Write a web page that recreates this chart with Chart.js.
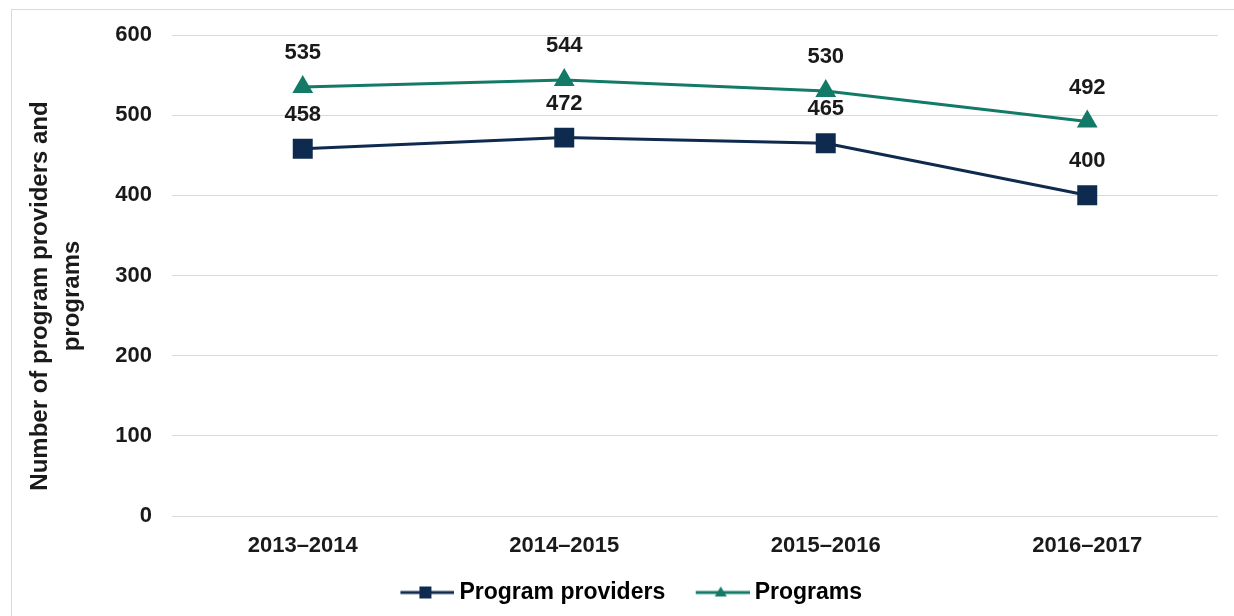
<!DOCTYPE html>
<html>
<head>
<meta charset="utf-8">
<script src="https://cdn.jsdelivr.net/npm/chart.js@4.4.1/dist/chart.umd.min.js"></script>
<style>
  html, body { margin: 0; padding: 0; background: #fff; overflow: hidden; }
  #wrap { position: relative; width: 1234px; height: 616px; }
  #frame { position: absolute; left: 11px; top: 9px; width: 1240px; height: 620px; border: 1px solid #d9d9d9; box-sizing: border-box; }
  canvas { position: absolute; left: 0; top: 0; }
</style>
</head>
<body>
<div id="wrap">
  <div id="frame"></div>
  <canvas id="chart" width="1234" height="616"></canvas>
</div>
<script>
var years = ['2013\u20132014', '2014\u20132015', '2015\u20132016', '2016\u20132017'];
var providers = [458, 472, 465, 400];
var programs = [535, 544, 530, 492];
var yTicks = [0, 100, 200, 300, 400, 500, 600];
var yTitle = ['Number of program providers and', 'programs'];

var navy = '#0e2a4e';
var green = '#127a67';
var textColor = '#1a1a1a';
var fontFam = '"Liberation Sans", Arial, sans-serif';

// line + marker swatch for the legend, blank on the left works as item gap
function legendIcon(color, style){
    var c = document.createElement('canvas');
    c.width = 81; c.height = 16;
    var g = c.getContext('2d');
    g.strokeStyle = color; g.lineWidth = 3;
    g.beginPath(); g.moveTo(27, 8); g.lineTo(81, 8); g.stroke();
    g.fillStyle = color;
    if (style === 'rect') {
        g.fillRect(46, 2, 12, 12);
    } else {
        g.beginPath(); g.moveTo(52, 2); g.lineTo(58, 12); g.lineTo(46, 12); g.closePath(); g.fill();
    }
    return c;
}

var valueLabels = {
    id: 'valueLabels',
    afterDatasetsDraw: function(chart){
        var ctx = chart.ctx;
        ctx.save();
        ctx.font = 'bold 22px ' + fontFam;
        ctx.fillStyle = textColor;
        ctx.textAlign = 'center';
        ctx.textBaseline = 'middle';
        chart.data.datasets.forEach(function(ds, i){
            chart.getDatasetMeta(i).data.forEach(function(pt, j){
                ctx.fillText(ds.data[j], pt.x, pt.y - 34);
            });
        });
        ctx.restore();
    }
};

// y axis title drawn by hand so it sits where the original has it
var axisTitle = {
    id: 'axisTitle',
    afterDraw: function(chart){
        var ctx = chart.ctx;
        ctx.save();
        ctx.font = 'bold 24px ' + fontFam;
        ctx.fillStyle = textColor;
        ctx.textAlign = 'center';
        ctx.textBaseline = 'middle';
        ctx.translate(40, 296);
        ctx.rotate(-Math.PI / 2);
        yTitle.forEach(function(line, i){
            ctx.fillText(line, 0, i * 32);
        });
        ctx.restore();
    }
};

new Chart(document.getElementById('chart'), {
    type: 'line',
    data: {
        labels: years,
        datasets: [{
            label: 'Program providers',
            data: providers,
            borderColor: navy,
            backgroundColor: navy,
            borderWidth: 3,
            pointStyle: 'rect',
            pointRadius: 12,
            pointHoverRadius: 12,
            tension: 0
        }, {
            label: 'Programs',
            data: programs,
            borderColor: green,
            backgroundColor: green,
            borderWidth: 3,
            pointStyle: 'triangle',
            pointRadius: 9,
            pointHoverRadius: 9,
            tension: 0
        }]
    },
    options: {
        responsive: false,
        animation: false,
        layout: { padding: { left: 24, right: 16, top: 35, bottom: 2 } },
        plugins: {
            tooltip: { enabled: false },
            legend: {
                position: 'bottom',
                labels: {
                    usePointStyle: true,
                    pointStyleWidth: 68,
                    padding: 10,
                    color: textColor,
                    font: { family: fontFam, size: 23, weight: 'bold' },
                    generateLabels: function(chart){
                        return chart.data.datasets.map(function(ds, i){
                            return {
                                text: ds.label,
                                pointStyle: legendIcon(ds.borderColor, ds.pointStyle),
                                fillStyle: ds.borderColor,
                                strokeStyle: ds.borderColor,
                                lineWidth: 0,
                                hidden: false,
                                datasetIndex: i
                            };
                        });
                    }
                }
            }
        },
        scales: {
            x: {
                offset: true,
                grid: { display: false },
                border: { display: false },
                ticks: { color: textColor, padding: 9, font: { family: fontFam, size: 22, weight: 'bold' } },
                afterFit: function(s){ s.height = 55; }
            },
            y: {
                min: 0,
                max: 600,
                afterBuildTicks: function(s){ s.ticks = yTicks.map(function(v){ return { value: v }; }); },
                grid: { color: '#d9d9d9', lineWidth: 1, drawTicks: false },
                border: { display: false },
                ticks: { color: textColor, padding: 20, font: { family: fontFam, size: 22, weight: 'bold' } },
                afterFit: function(s){ s.width = 148; }
            }
        }
    },
    plugins: [valueLabels, axisTitle]
});
</script>
</body>
</html>
